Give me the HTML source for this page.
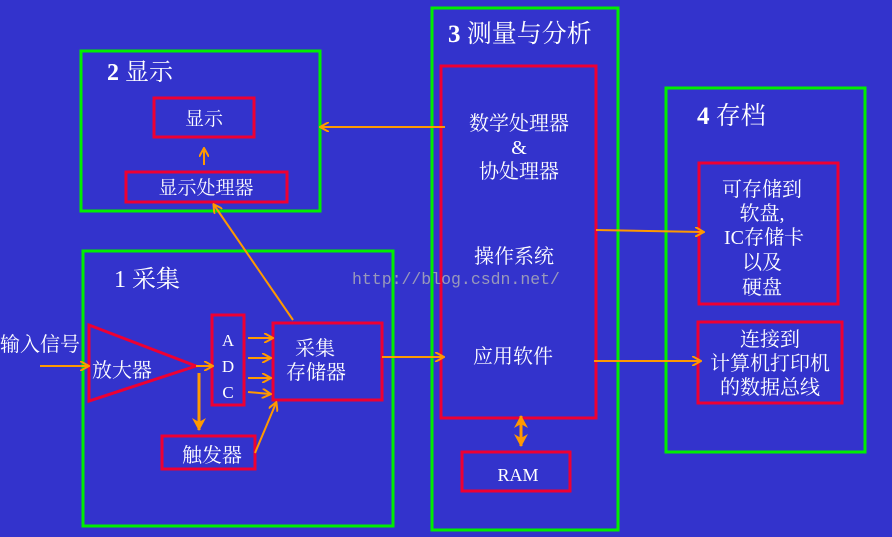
<!DOCTYPE html>
<html><head><meta charset="utf-8"><style>
html,body{margin:0;padding:0;background:#3333cc;}
svg{display:block}
text{font-family:"Liberation Serif","Noto Serif CJK SC",serif;fill:#fff;}
</style></head><body>
<svg width="892" height="537" viewBox="0 0 892 537" xmlns="http://www.w3.org/2000/svg">
<defs>
<marker id="a" markerWidth="10" markerHeight="10" refX="8" refY="5" orient="auto" markerUnits="userSpaceOnUse">
<path d="M0,0 L9,5 L0,10" fill="none" stroke="#ff9900" stroke-width="2"/></marker>
<marker id="b" markerWidth="14" markerHeight="14" refX="12" refY="7" orient="auto" markerUnits="userSpaceOnUse">
<path d="M0,0 L13,7 L0,14 L4,7z" fill="#ff9900"/></marker>
</defs>
<rect width="892" height="537" fill="#3333cc"/>
<g fill="none" stroke="#00ee00" stroke-width="3">
<rect x="81" y="51" width="239" height="160"/>
<rect x="83" y="251" width="310" height="275"/>
<rect x="432" y="8" width="186" height="522"/>
<rect x="666" y="88" width="199" height="364"/>
</g>
<g fill="none" stroke="#ee0033" stroke-width="3">
<rect x="154" y="98" width="100" height="39"/>
<rect x="126" y="172" width="161" height="30"/>
<polygon points="89,325 89,401 196,366"/>
<rect x="212" y="315" width="32" height="90"/>
<rect x="273" y="323" width="109" height="77"/>
<rect x="162" y="436" width="93" height="33"/>
<rect x="441" y="66" width="155" height="352"/>
<rect x="462" y="452" width="108" height="39"/>
<rect x="699" y="163" width="139" height="141"/>
<rect x="698" y="322" width="144" height="81"/>
</g>
<g stroke="#ff9900" stroke-width="2" fill="none" marker-end="url(#a)">
<line x1="445" y1="127" x2="321" y2="127"/>
<line x1="204" y1="165" x2="204" y2="149"/>
<line x1="293" y1="320" x2="214" y2="205"/>
<line x1="40" y1="366" x2="88" y2="366"/>
<line x1="196" y1="366" x2="212" y2="366"/>
<line x1="248" y1="338" x2="272" y2="338"/>
<line x1="248" y1="358" x2="270" y2="358"/>
<line x1="248" y1="378" x2="270" y2="378"/>
<line x1="248" y1="392" x2="270" y2="394"/>
<line x1="255" y1="453" x2="276" y2="403"/>
<line x1="382" y1="357" x2="443" y2="357"/>
<line x1="596" y1="230" x2="703" y2="232"/>
<line x1="594" y1="361" x2="700" y2="361"/>
</g>
<g stroke="#ff9900" stroke-width="3" fill="none">
<line x1="199" y1="373" x2="199" y2="430" marker-end="url(#b)"/>
<line x1="521" y1="430" x2="521" y2="416" marker-end="url(#b)"/>
<line x1="521" y1="430" x2="521" y2="446" marker-end="url(#b)"/>
</g>
<text x="352" y="284" font-size="16.5" style="fill:#9999bb;font-family:'Liberation Mono',monospace">http://blog.csdn.net/</text>
<text x="107" y="80" font-size="24"><tspan font-weight="bold">2</tspan>  显示</text>
<text x="204" y="125" font-size="19" text-anchor="middle">显示</text>
<text x="206" y="194" font-size="19" text-anchor="middle">显示处理器</text>
<text x="114" y="287" font-size="24">1  采集</text>
<text x="0" y="351" font-size="20">输入信号</text>
<text x="92" y="377" font-size="20">放大器</text>
<text x="228" y="346" font-size="17" text-anchor="middle">A</text>
<text x="228" y="372" font-size="17" text-anchor="middle">D</text>
<text x="228" y="398" font-size="17" text-anchor="middle">C</text>
<text x="315" y="355" font-size="20" text-anchor="middle">采集</text>
<text x="316" y="379" font-size="20" text-anchor="middle">存储器</text>
<text x="212" y="462" font-size="20" text-anchor="middle">触发器</text>
<text x="448" y="42" font-size="25"><tspan font-weight="bold">3</tspan> 测量与分析</text>
<text x="519" y="130" font-size="20" text-anchor="middle">数学处理器</text>
<text x="519" y="154" font-size="20" text-anchor="middle">&amp;</text>
<text x="519" y="178" font-size="20" text-anchor="middle">协处理器</text>
<text x="514" y="263" font-size="20" text-anchor="middle">操作系统</text>
<text x="513" y="363" font-size="20" text-anchor="middle">应用软件</text>
<text x="518" y="481" font-size="18" text-anchor="middle">RAM</text>
<text x="697" y="124" font-size="25"><tspan font-weight="bold">4</tspan>  存档</text>
<text x="762" y="196" font-size="20" text-anchor="middle">可存储到</text>
<text x="762" y="220" font-size="20" text-anchor="middle">软盘,</text>
<text x="764" y="244" font-size="20" text-anchor="middle">IC存储卡</text>
<text x="762" y="269" font-size="20" text-anchor="middle">以及</text>
<text x="762" y="294" font-size="20" text-anchor="middle">硬盘</text>
<text x="770" y="346" font-size="20" text-anchor="middle">连接到</text>
<text x="770" y="370" font-size="20" text-anchor="middle">计算机打印机</text>
<text x="770" y="394" font-size="20" text-anchor="middle">的数据总线</text>
</svg>
</body></html>
